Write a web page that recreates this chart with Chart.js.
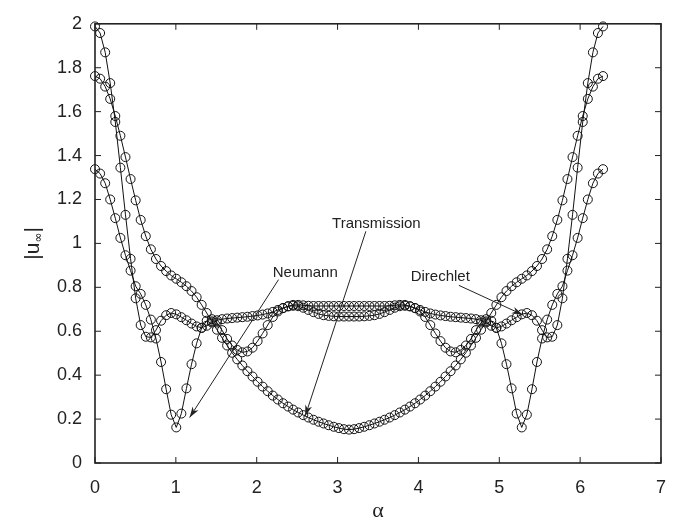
<!DOCTYPE html>
<html>
<head>
<meta charset="utf-8">
<script src="https://cdn.jsdelivr.net/npm/chart.js@4.4.0/dist/chart.umd.min.js"></script>
<style>
  body { margin: 0; background: #fff; }
  canvas { display: block; }
</style>
</head>
<body>
<canvas id="chart" width="680" height="526"></canvas>
<script>
// angle samples (0 .. 2*pi, 101 points)
const alpha = [
    0.000, 0.063, 0.126, 0.188, 0.251, 0.314, 0.377, 0.440, 0.503, 0.565,
    0.628, 0.691, 0.754, 0.817, 0.880, 0.942, 1.005, 1.068, 1.131, 1.194,
    1.257, 1.319, 1.382, 1.445, 1.508, 1.571, 1.634, 1.696, 1.759, 1.822,
    1.885, 1.948, 2.011, 2.073, 2.136, 2.199, 2.262, 2.325, 2.388, 2.450,
    2.513, 2.576, 2.639, 2.702, 2.765, 2.827, 2.890, 2.953, 3.016, 3.079,
    3.142,
    3.204, 3.267, 3.330, 3.393, 3.456, 3.519, 3.581, 3.644, 3.707, 3.770,
    3.833, 3.896, 3.958, 4.021, 4.084, 4.147, 4.210, 4.273, 4.335, 4.398,
    4.461, 4.524, 4.587, 4.650, 4.712, 4.775, 4.838, 4.901, 4.964, 5.027,
    5.089, 5.152, 5.215, 5.278, 5.341, 5.404, 5.466, 5.529, 5.592, 5.655,
    5.718, 5.781, 5.843, 5.906, 5.969, 6.032, 6.095, 6.158, 6.220, 6.283
];

const transmission = [
    1.762, 1.750, 1.714, 1.658, 1.580, 1.490, 1.393, 1.293, 1.196, 1.107,
    1.033, 0.973, 0.929, 0.897, 0.874, 0.854, 0.839, 0.823, 0.805, 0.783,
    0.755, 0.720, 0.683, 0.645, 0.607, 0.570, 0.535, 0.502, 0.472, 0.444,
    0.418, 0.394, 0.370, 0.348, 0.327, 0.307, 0.289, 0.272, 0.257, 0.243,
    0.230, 0.218, 0.207, 0.197, 0.188, 0.180, 0.172, 0.165, 0.159, 0.154,
    0.152,
    0.154, 0.159, 0.165, 0.172, 0.180, 0.188, 0.197, 0.207, 0.218, 0.230,
    0.243, 0.257, 0.272, 0.289, 0.307, 0.327, 0.348, 0.370, 0.394, 0.418,
    0.444, 0.472, 0.502, 0.535, 0.570, 0.607, 0.645, 0.683, 0.720, 0.755,
    0.783, 0.805, 0.823, 0.839, 0.854, 0.874, 0.897, 0.929, 0.973, 1.033,
    1.107, 1.196, 1.293, 1.393, 1.490, 1.580, 1.658, 1.714, 1.750, 1.762
];

const direchlet = [
    1.988, 1.958, 1.870, 1.730, 1.553, 1.345, 1.130, 0.930, 0.750, 0.628,
    0.575, 0.572, 0.605, 0.648, 0.673, 0.683, 0.677, 0.664, 0.650, 0.635,
    0.622, 0.616, 0.625, 0.640, 0.650, 0.655, 0.658, 0.660, 0.662, 0.664,
    0.666, 0.669, 0.672, 0.676, 0.681, 0.688, 0.697, 0.706, 0.713, 0.716,
    0.714, 0.707, 0.697, 0.687, 0.679, 0.673, 0.670, 0.668, 0.667, 0.667,
    0.667,
    0.667, 0.667, 0.668, 0.670, 0.673, 0.679, 0.687, 0.697, 0.707, 0.714,
    0.716, 0.713, 0.706, 0.697, 0.688, 0.681, 0.676, 0.672, 0.669, 0.666,
    0.664, 0.662, 0.660, 0.658, 0.655, 0.650, 0.640, 0.625, 0.616, 0.622,
    0.635, 0.650, 0.664, 0.677, 0.683, 0.673, 0.648, 0.605, 0.572, 0.575,
    0.628, 0.750, 0.930, 1.130, 1.345, 1.553, 1.730, 1.870, 1.958, 1.988
];

const neumann = [
    1.338, 1.318, 1.274, 1.200, 1.115, 1.025, 0.946, 0.876, 0.805, 0.770,
    0.720, 0.653, 0.567, 0.460, 0.336, 0.220, 0.162, 0.225, 0.340, 0.450,
    0.545, 0.615, 0.648, 0.655, 0.640, 0.605, 0.565, 0.535, 0.515, 0.504,
    0.508, 0.525, 0.555, 0.590, 0.628, 0.665, 0.690, 0.705, 0.714, 0.720,
    0.720, 0.718, 0.716, 0.715, 0.715, 0.715, 0.715, 0.715, 0.715, 0.715,
    0.715,
    0.715, 0.715, 0.715, 0.715, 0.715, 0.715, 0.715, 0.716, 0.718, 0.720,
    0.720, 0.714, 0.705, 0.690, 0.665, 0.628, 0.590, 0.555, 0.525, 0.508,
    0.504, 0.515, 0.535, 0.565, 0.605, 0.640, 0.655, 0.648, 0.615, 0.545,
    0.450, 0.340, 0.225, 0.162, 0.220, 0.336, 0.460, 0.567, 0.653, 0.720,
    0.770, 0.805, 0.876, 0.946, 1.025, 1.115, 1.200, 1.274, 1.318, 1.338
];

const xTicks = [0, 1, 2, 3, 4, 5, 6, 7];
const yTicks = [0, 0.2, 0.4, 0.6, 0.8, 1, 1.2, 1.4, 1.6, 1.8, 2];

// labels with arrows: text position, arrow start, arrow tip (data units)
const notes = [
    { text: "Transmission", tx: 3.48, ty: 1.089, x0: 3.35, y0: 1.055, x1: 2.60, y1: 0.214 },
    { text: "Neumann", tx: 2.60, ty: 0.868, x0: 2.27, y0: 0.835, x1: 1.17, y1: 0.207 },
    { text: "Direchlet", tx: 4.27, ty: 0.848, x0: 4.50, y0: 0.809, x1: 5.29, y1: 0.675 }
];

function toPoints(ys) {
    return alpha.map((a, i) => ({ x: a, y: ys[i] }));
}

function makeSeries(label, ys) {
    return {
        label: label,
        data: toPoints(ys),
        borderColor: "#111",
        borderWidth: 1,
        backgroundColor: "rgba(0,0,0,0)",
        pointStyle: "circle",
        pointRadius: 4.5,
        pointBorderWidth: 1,
        pointBorderColor: "#111",
        pointBackgroundColor: "rgba(0,0,0,0)",
        tension: 0,
        clip: false
    };
}

function drawArrow(c, x0, y0, x1, y1) {
    c.beginPath();
    c.moveTo(x0, y0);
    c.lineTo(x1, y1);
    c.stroke();
    const ang = Math.atan2(y1 - y0, x1 - x0);
    const len = 11, half = 3.5;
    c.beginPath();
    c.moveTo(x1, y1);
    c.lineTo(x1 - len * Math.cos(ang) + half * Math.sin(ang), y1 - len * Math.sin(ang) - half * Math.cos(ang));
    c.lineTo(x1 - len * 0.7 * Math.cos(ang), y1 - len * 0.7 * Math.sin(ang));
    c.lineTo(x1 - len * Math.cos(ang) - half * Math.sin(ang), y1 - len * Math.sin(ang) + half * Math.cos(ang));
    c.closePath();
    c.fill();
}

// frame, inward ticks, arrows, axis titles
const decorations = {
    id: "decorations",
    afterDatasetsDraw(chart) {
        const c = chart.ctx;
        const a = chart.chartArea;
        const xs = chart.scales.x, ys = chart.scales.y;
        c.save();
        c.strokeStyle = "#222";
        c.fillStyle = "#222";

        // ticks pointing into the box
        c.lineWidth = 1;
        c.beginPath();
        xTicks.forEach(v => {
            const px = xs.getPixelForValue(v);
            c.moveTo(px, a.bottom); c.lineTo(px, a.bottom - 6);
            c.moveTo(px, a.top); c.lineTo(px, a.top + 6);
        });
        yTicks.forEach(v => {
            const py = ys.getPixelForValue(v);
            c.moveTo(a.left, py); c.lineTo(a.left + 6, py);
            c.moveTo(a.right, py); c.lineTo(a.right - 6, py);
        });
        c.stroke();

        // box
        c.lineWidth = 1.6;
        c.strokeRect(a.left, a.top, a.right - a.left, a.bottom - a.top);

        // annotations
        c.lineWidth = 1;
        c.font = "15px 'Liberation Sans', Arial, sans-serif";
        c.textAlign = "center";
        c.textBaseline = "middle";
        notes.forEach(n => {
            c.fillText(n.text, xs.getPixelForValue(n.tx), ys.getPixelForValue(n.ty));
            drawArrow(c,
                xs.getPixelForValue(n.x0), ys.getPixelForValue(n.y0),
                xs.getPixelForValue(n.x1), ys.getPixelForValue(n.y1));
        });

        // x title
        c.font = "22px 'Liberation Serif', 'Times New Roman', serif";
        c.fillText("\u03b1", (a.left + a.right) / 2, 511);

        // y title |u_inf| rotated
        c.translate(33, (a.top + a.bottom) / 2);
        c.rotate(-Math.PI / 2);
        const big = "21px 'Liberation Sans', Arial, sans-serif";
        const small = "12px 'DejaVu Sans', sans-serif";
        c.textAlign = "left";
        c.textBaseline = "middle";
        c.font = big;
        const w1 = c.measureText("|u").width;
        const w3 = c.measureText("|").width;
        c.font = small;
        const w2 = c.measureText("\u221e").width;
        let x = -(w1 + w2 + w3) / 2;
        c.font = big;
        c.fillText("|u", x, 0);
        x += w1;
        c.font = small;
        c.fillText("\u221e", x, 6);
        x += w2;
        c.font = big;
        c.fillText("|", x, 0);
        c.restore();
    }
};

const ctx = document.getElementById("chart").getContext("2d");
const chart = new Chart(ctx, {
    type: "line",
    data: {
        datasets: [
            makeSeries("Direchlet", direchlet),
            makeSeries("Transmission", transmission),
            makeSeries("Neumann", neumann)
        ]
    },
    options: {
        responsive: false,
        animation: false,
        events: [],
        layout: { padding: { left: 0, right: 15, top: 15, bottom: 0 } },
        plugins: {
            legend: { display: false },
            tooltip: { enabled: false }
        },
        scales: {
            x: {
                type: "linear",
                min: 0,
                max: 7,
                afterBuildTicks: s => { s.ticks = xTicks.map(v => ({ value: v })); },
                afterFit: s => { s.height = 63; },
                grid: { display: false, drawTicks: false },
                border: { display: false },
                ticks: {
                    padding: 14,
                    color: "#222",
                    font: { family: "'Liberation Sans', Arial, sans-serif", size: 18 },
                    callback: v => String(v)
                }
            },
            y: {
                min: 0,
                max: 2,
                afterBuildTicks: s => { s.ticks = yTicks.map(v => ({ value: v })); },
                afterFit: s => { s.width = 95; },
                grid: { display: false, drawTicks: false },
                border: { display: false },
                ticks: {
                    padding: 13,
                    color: "#222",
                    font: { family: "'Liberation Sans', Arial, sans-serif", size: 18 },
                    callback: v => String(Math.round(v * 10) / 10)
                }
            }
        }
    },
    plugins: [decorations]
});
</script>
</body>
</html>
